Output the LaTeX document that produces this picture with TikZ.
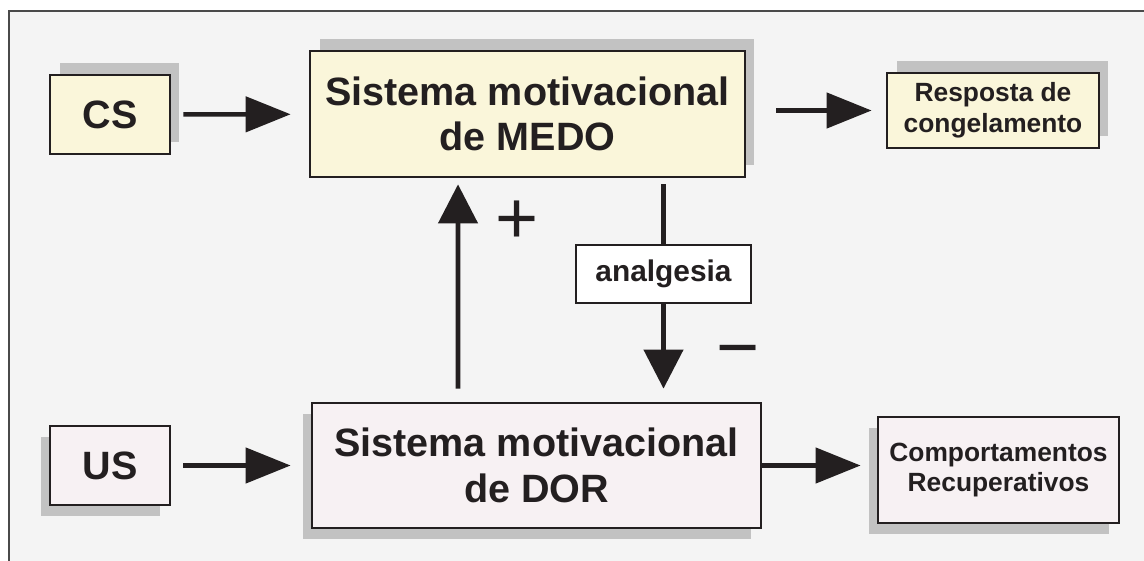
\documentclass[tikz,border=0pt]{standalone}
\usepackage{fontspec}
\setmainfont{Liberation Sans}
\usetikzlibrary{positioning, shadows, arrows.meta}
\definecolor{medofill}{HTML}{FAF6DA}
\definecolor{dorfill}{HTML}{F7F1F3}
\definecolor{shadowgray}{HTML}{C2C2C2}
\definecolor{panelgray}{HTML}{F4F4F4}
\definecolor{framegray}{HTML}{4A4A4A}
\definecolor{ink}{HTML}{231F20}

\begin{document}
\begin{tikzpicture}[
  x=0.02cm, y=-0.02cm,
  box/.style={
    draw=ink, line width=1.6pt, fill=#1, text=ink,
    align=center, inner sep=0pt
  },
  upshadow/.style={
    drop shadow={shadow xshift=0.19cm, shadow yshift=0.24cm,
                 fill=shadowgray, opacity=1}
  },
  downshadow/.style={
    drop shadow={shadow xshift=-0.19cm, shadow yshift=-0.22cm,
                 fill=shadowgray, opacity=1}
  },
  big/.style={font=\fontsize{22.5}{26}\selectfont\bfseries},
  small/.style={font=\fontsize{15}{17.5}\selectfont\bfseries},
  flow/.style={draw=ink, line width=2.6pt,
               -{Triangle[length=0.9cm, width=0.7cm]}},
  flowv/.style={draw=ink, line width=2.6pt,
                -{Triangle[length=0.78cm, width=0.78cm]}},
  sign/.style={text=ink, inner sep=0pt, font=\fontsize{42}{42}\selectfont}
]

\useasboundingbox (0,0) rectangle (1144,561);
\fill[white] (0,0) rectangle (1144,561);
\fill[panelgray] (9,11) rectangle (1144,561);
\draw[framegray, line width=1.3pt] (9,561) -- (9,11) -- (1144,11);

% fear system row
\node[box=medofill, upshadow, big, minimum width=2.4cm, minimum height=1.58cm]
  (cs) at (110,114.5) {CS};
\node[box=medofill, upshadow, big, minimum width=8.7cm, minimum height=2.52cm]
  (medo) at (527.5,114) {Sistema motivacional\\de MEDO};
\node[box=medofill, upshadow, small, minimum width=4.24cm, minimum height=1.5cm]
  (resp) at (993,110.5) {Resposta de\\congelamento};

% pain system row
\node[box=dorfill, downshadow, big, minimum width=2.4cm, minimum height=1.58cm]
  (us) at (110,465.5) {US};
\node[box=dorfill, downshadow, big, minimum width=8.98cm, minimum height=2.5cm]
  (dor) at (536.5,465.5) {Sistema motivacional\\de DOR};
\node[box=dorfill, downshadow, small, minimum width=4.82cm, minimum height=2.12cm]
  (comp) at (998.5,470) {Comportamentos\\Recuperativos};

\node[box=white, font=\fontsize{17}{19}\selectfont\bfseries,
      minimum width=3.5cm, minimum height=1.16cm]
  (analg) at (663.5,274) {analgesia};

\node[sign] (plus) at (517,222) {+};
\node[sign] (minus) at (738,359) {−};

\draw[flow, shorten <=0.24cm, shorten >=0.36cm] (cs) -- (medo);
\draw[flow, shorten <=0.6cm, shorten >=0.28cm] (medo.east |- resp.west) -- (resp.west);
\draw[flow, shorten <=0.24cm, shorten >=0.4cm] (us) -- (dor);
\draw[flow, shorten >=0.32cm] (dor.east) -- (dor.east -| comp.west);

\draw[flowv, shorten <=0.26cm, shorten >=0.12cm]
  ([xshift=-1.57cm]dor.north) -- ([xshift=-1.39cm]medo.south);
\draw[ink, line width=2.6pt, shorten <=0.12cm] (medo.south -| analg) -- (analg.north);
\draw[flowv, shorten >=0.26cm] (analg.south) -- (dor.north -| analg);

\end{tikzpicture}
\end{document}
